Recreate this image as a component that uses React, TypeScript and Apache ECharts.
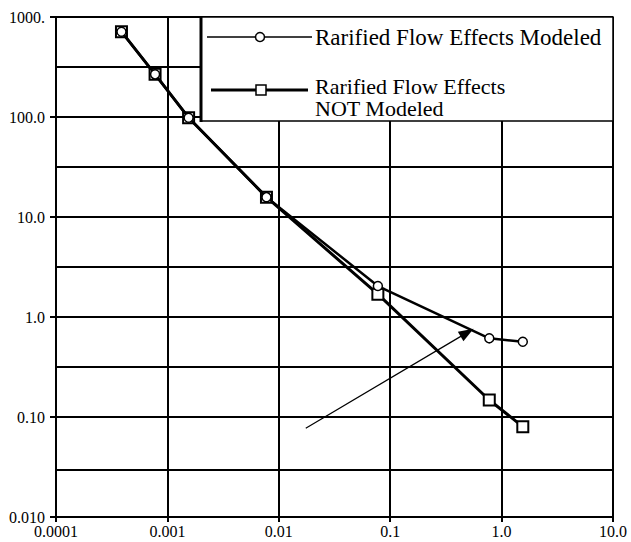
import React, { useEffect, useRef } from "react";
import * as echarts from "echarts";

const xValues = [0.000387, 0.000775, 0.00155, 0.00775, 0.0775, 0.775, 1.55];
const modeled = [713, 267, 98.4, 15.8, 2.04, 0.612, 0.566];
const notModeled = [713, 267, 98.4, 15.8, 1.69, 0.148, 0.08];
const xTickLabels = ["0.0001", "0.001", "0.01", "0.1", "1.0", "10.0"];
const yTickLabels = ["0.010", "0.10", "1.0", "10.0", "100.0", "1000."];
const halfDecades = [0.03162, 0.3162, 3.162, 31.62, 316.2];
const arrowFrom = [0.01746, 0.0771];
const arrowTo = [0.49, 0.698];
const legendLine1 = "Rarified Flow Effects Modeled";
const legendLine2a = "Rarified Flow Effects";
const legendLine2b = "NOT Modeled";
const seriesNames = [legendLine1, legendLine2a + " " + legendLine2b];

const FONT = "Liberation Serif";

export default function App() {
  const ref = useRef<HTMLDivElement>(null);
  useEffect(() => {
    document.body.style.margin = "0";
    const chart = echarts.init(ref.current!, null, { renderer: "svg" });
    const lineXY = (ys: number[]) => xValues.map((x, i) => [x, ys[i]]);
    chart.setOption({
      animation: false,
      backgroundColor: "#fff",
      grid: { left: 56, right: 18, top: 17, bottom: 25, containLabel: false },
      xAxis: {
        type: "log",
        logBase: 10,
        min: 0.0001,
        max: 10,
        splitNumber: 5,
        axisLine: { show: true, lineStyle: { color: "#000", width: 2 } },
        axisTick: { show: true, length: 5, lineStyle: { color: "#000", width: 2 } },
        axisLabel: {
          margin: 6,
          color: "#000",
          fontFamily: FONT,
          fontSize: 16,
          formatter: (v: number) => xTickLabels[Math.round(Math.log10(v)) + 4] ?? "",
        },
        splitLine: { show: true, lineStyle: { color: "#000", width: 2 } },
      },
      yAxis: {
        type: "log",
        logBase: 10,
        min: 0.01,
        max: 1000,
        splitNumber: 5,
        axisLine: { show: true, lineStyle: { color: "#000", width: 2 } },
        axisTick: { show: true, length: 6, lineStyle: { color: "#000", width: 2 } },
        axisLabel: {
          margin: 11,
          color: "#000",
          fontFamily: FONT,
          fontSize: 16,
          formatter: (v: number) => yTickLabels[Math.round(Math.log10(v)) + 2] ?? "",
        },
        splitLine: { show: true, lineStyle: { color: "#000", width: 2 } },
      },
      series: [
        {
          name: seriesNames[1],
          type: "line",
          data: lineXY(notModeled),
          symbol: "rect",
          symbolSize: 11,
          showAllSymbol: true,
          lineStyle: { color: "#000", width: 3 },
          itemStyle: { color: "#fff", borderColor: "#000", borderWidth: 2 },
          z: 3,
          markLine: {
            silent: true,
            z: 1,
            symbol: ["none", "none"],
            label: { show: false },
            lineStyle: { color: "#000", width: 2, type: "solid" },
            data: halfDecades.map((v) => ({ yAxis: v })),
          },
        },
        {
          name: seriesNames[0],
          type: "line",
          data: lineXY(modeled),
          symbol: "circle",
          symbolSize: 9,
          showAllSymbol: true,
          lineStyle: { color: "#000", width: 2.5 },
          itemStyle: { color: "#fff", borderColor: "#000", borderWidth: 1.5 },
          z: 4,
          markLine: {
            silent: true,
            z: 6,
            symbol: ["none", "triangle"],
            symbolSize: [11, 15],
            label: { show: false },
            lineStyle: { color: "#000", width: 1.2, type: "solid" },
            itemStyle: { color: "#000" },
            data: [[{ coord: arrowFrom }, { coord: arrowTo }]],
          },
        },
      ],
      graphic: [
        {
          type: "group",
          z: 100,
          children: [
            {
              type: "rect",
              shape: { x: 201, y: 17, width: 412, height: 104 },
              style: { fill: "#fff", stroke: "#000", lineWidth: 1.5 },
              z: 100,
            },
            {
              type: "line",
              shape: { x1: 201, y1: 16, x2: 201, y2: 122 },
              style: { stroke: "#000", lineWidth: 3 },
              z: 101,
            },
            {
              type: "line",
              shape: { x1: 207, y1: 37, x2: 312, y2: 37 },
              style: { stroke: "#000", lineWidth: 1.5 },
              z: 101,
            },
            {
              type: "circle",
              shape: { cx: 260, cy: 37, r: 4.5 },
              style: { fill: "#fff", stroke: "#000", lineWidth: 1.5 },
              z: 102,
            },
            {
              type: "text",
              x: 315,
              y: 37,
              style: {
                text: legendLine1,
                font: `23px "${FONT}"`,
                fill: "#000",
                verticalAlign: "middle",
                align: "left",
              },
              z: 102,
            },
            {
              type: "line",
              shape: { x1: 211, y1: 90, x2: 308, y2: 90 },
              style: { stroke: "#000", lineWidth: 3 },
              z: 101,
            },
            {
              type: "rect",
              shape: { x: 256, y: 85, width: 10, height: 10 },
              style: { fill: "#fff", stroke: "#000", lineWidth: 1.5 },
              z: 102,
            },
            {
              type: "text",
              x: 315,
              y: 86.5,
              style: {
                text: legendLine2a,
                font: `22px "${FONT}"`,
                fill: "#000",
                verticalAlign: "middle",
                align: "left",
              },
              z: 102,
            },
            {
              type: "text",
              x: 315,
              y: 108,
              style: {
                text: legendLine2b,
                font: `22px "${FONT}"`,
                fill: "#000",
                verticalAlign: "middle",
                align: "left",
              },
              z: 102,
            },
          ],
        },
      ],
    });
    return () => chart.dispose();
  }, []);
  return (
    <div
      ref={ref}
      style={{ position: "fixed", left: 0, top: 0, width: 631, height: 542 }}
    />
  );
}
